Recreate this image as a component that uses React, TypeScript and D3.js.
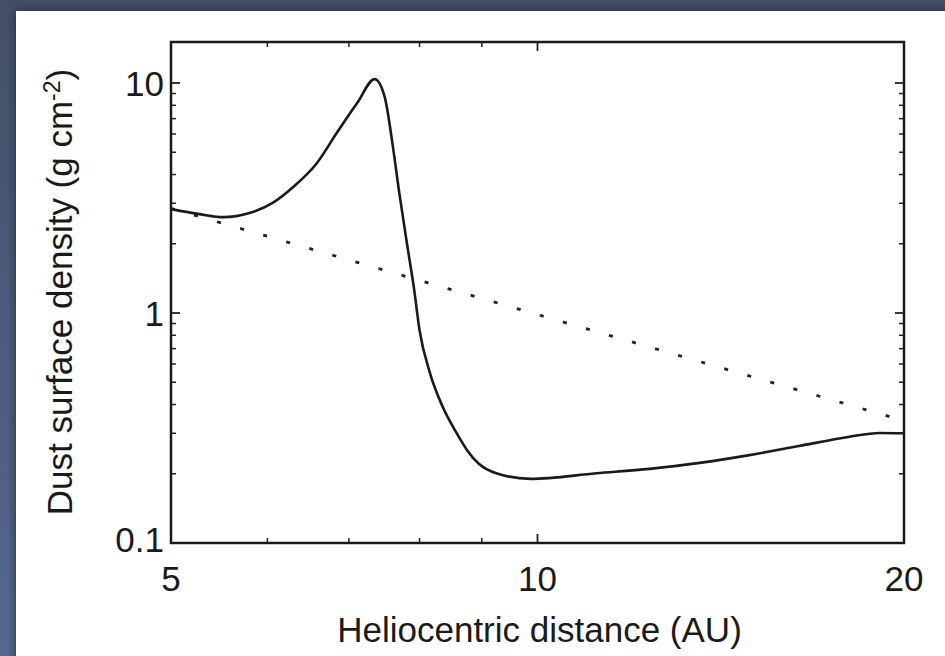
import React from "react";
import * as d3 from "d3";

const solidX = [5.0, 5.28, 5.52, 5.80, 6.06, 6.30, 6.59, 6.84, 7.11, 7.35, 7.49, 7.60, 7.70, 7.82, 7.92, 8.00, 8.16, 8.36, 8.58, 8.75, 8.95, 9.25, 9.87, 11.18, 12.36, 13.59, 14.93, 16.4, 18.0, 19.1, 20];
const solidY = [2.83, 2.69, 2.61, 2.72, 3.01, 3.53, 4.49, 6.06, 8.18, 10.4, 8.70, 5.48, 3.32, 1.94, 1.26, 0.844, 0.548, 0.390, 0.301, 0.254, 0.221, 0.201, 0.190, 0.201, 0.210, 0.223, 0.241, 0.264, 0.289, 0.301, 0.300];
const dottedX = [5, 20];
const dottedY = [2.85, 0.34];

const xTickLabels = [5, 10, 20];
const xMinorTicks = [6, 7, 8, 9];
const yTickLabels = [0.1, 1, 10];
const yMajor = [1, 10];
const yMinor = [0.2, 0.3, 0.4, 0.5, 0.6, 0.7, 0.8, 0.9, 2, 3, 4, 5, 6, 7, 8, 9];

const W = 945, H = 656;
const L = 171, R = 904, T = 42, B = 543;
const FONT = "'Liberation Sans', Arial, Helvetica, sans-serif";
const FS = 35;

export default function App() {
  const x = d3.scaleLog().domain([5, 20]).range([L, R]);
  const y = d3.scaleLog().domain([0.1, 10]).range([B, 83]);
  const line = d3.line<[number, number]>().x(d => x(d[0])).y(d => y(d[1])).curve(d3.curveMonotoneX);
  const solid = line(solidX.map((v, i) => [v, solidY[i]]) as [number, number][]) || "";
  const dotted = d3.line<[number, number]>().x(d => x(d[0])).y(d => y(d[1]))(dottedX.map((v, i) => [v, dottedY[i]]) as [number, number][]) || "";

  return (
    <svg width={W} height={H} style={{ position: "absolute", left: 0, top: 0 }} fontFamily={FONT}>
      <defs>
        <linearGradient id="bg" x1="0" y1="0" x2="0" y2="1">
          <stop offset="0" stopColor="#434f66" />
          <stop offset="1" stopColor="#56688f" />
        </linearGradient>
        <filter id="sh" x="-5%" y="-5%" width="110%" height="110%">
          <feDropShadow dx="0" dy="0" stdDeviation="4" floodColor="#1c2230" floodOpacity="0.8" />
        </filter>
        <clipPath id="clip"><rect x={L} y={T} width={R - L} height={B - T} /></clipPath>
      </defs>
      <rect x={0} y={0} width={W} height={H} fill="url(#bg)" />
      <rect x={16} y={11} width={W} height={H} fill="#ffffff" filter="url(#sh)" />

      <g clipPath="url(#clip)">
        <path d={dotted} fill="none" stroke="#222" strokeWidth={2.8} strokeDasharray="4 20" />
        <path d={solid} fill="none" stroke="#1a1a1a" strokeWidth={2.6} strokeLinejoin="round" />
      </g>

      {yMajor.map(v => (
        <g key={"ym" + v}>
          <line x1={L} x2={L + 9} y1={y(v)} y2={y(v)} stroke="#222" strokeWidth={1.8} />
          <line x1={R} x2={R - 9} y1={y(v)} y2={y(v)} stroke="#222" strokeWidth={1.8} />
        </g>
      ))}
      {yMinor.map(v => (
        <g key={"yn" + v}>
          <line x1={L} x2={L + 5} y1={y(v)} y2={y(v)} stroke="#222" strokeWidth={1.5} />
          <line x1={R} x2={R - 5} y1={y(v)} y2={y(v)} stroke="#222" strokeWidth={1.5} />
        </g>
      ))}
      {xMinorTicks.map(v => (
        <g key={"xn" + v}>
          <line x1={x(v)} x2={x(v)} y1={B} y2={B - 5} stroke="#222" strokeWidth={1.5} />
          <line x1={x(v)} x2={x(v)} y1={T} y2={T + 5} stroke="#222" strokeWidth={1.5} />
        </g>
      ))}
      <line x1={x(10)} x2={x(10)} y1={B} y2={B - 9} stroke="#222" strokeWidth={1.8} />
      <line x1={x(10)} x2={x(10)} y1={T} y2={T + 9} stroke="#222" strokeWidth={1.8} />

      <rect x={L} y={T} width={R - L} height={B - T} fill="none" stroke="#1a1a1a" strokeWidth={2.5} />

      {yTickLabels.map(v => (
        <text key={"yl" + v} x={L - 7} y={y(v) - (v === 0.1 ? 4 : 0)} dy="0.36em" textAnchor="end" fontSize={FS} fill="#1a1a1a">
          {String(v)}
        </text>
      ))}
      {xTickLabels.map(v => (
        <text key={"xl" + v} x={x(v)} y={B + 48} textAnchor="middle" fontSize={FS} fill="#1a1a1a">
          {String(v)}
        </text>
      ))}

      <text x={(L + R) / 2 + 2} y={642} textAnchor="middle" fontSize={FS} fill="#1a1a1a">
        Heliocentric distance (AU)
      </text>
      <text transform={`translate(72, 292) rotate(-90)`} textAnchor="middle" fontSize={FS} fill="#1a1a1a">
        Dust surface density (g cm<tspan dy={-12} fontSize={23}>-2</tspan><tspan dy={12}>)</tspan>
      </text>
    </svg>
  );
}
